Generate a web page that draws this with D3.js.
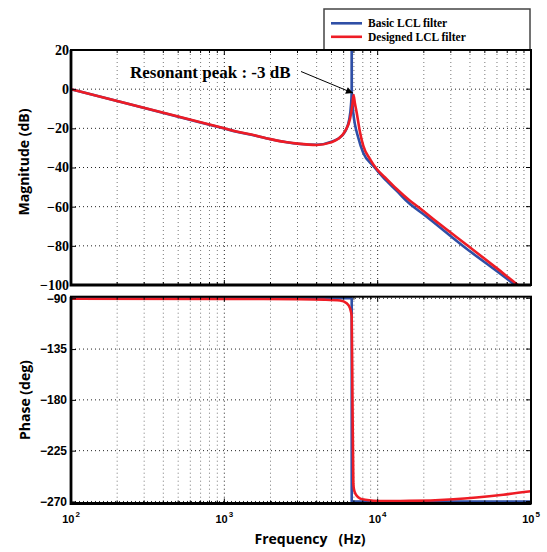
<!DOCTYPE html>
<html>
<head>
<meta charset="utf-8">
<script src="https://cdn.jsdelivr.net/npm/d3@7"></script>
<style>
body { margin: 0; background: #fff; }
</style>
</head>
<body>
<div id="chart-area"></div>
<script>
// values
const seriesNames = ["Basic LCL filter", "Designed LCL filter"];
const seriesColors = ["#2f4fa6", "#ee1c25"];

const magFreqBasic = [100, 200, 500, 1000, 1200, 1500, 2000, 2500, 3000, 4000, 5000, 5970, 6530, 6700, 6765, 6772, 6780, 6850, 6930, 7480, 8060, 9370, 10900, 13310, 15840, 20000, 38000, 60000, 78700, 100000];
const magBasic = [0, -6.1, -14.1, -20.1, -21.7, -23.3, -25.6, -27, -27.9, -28.4, -26.8, -23, -15.3, -8, -2, 40, -2, -8, -12, -24.9, -32.6, -39.2, -45.2, -51.9, -57.9, -64, -81.5, -93, -100, -106];

const magFreqDesigned = [100, 200, 500, 1000, 1200, 1500, 2000, 2500, 3000, 4000, 4900, 5500, 6120, 6610, 6840, 6960, 7100, 7300, 7670, 8060, 8910, 9860, 11460, 13310, 16250, 18300, 25000, 38800, 60000, 82250, 100000];
const magDesigned = [0, -6, -14, -20, -21.6, -23.2, -25.5, -27, -27.8, -28.5, -27.3, -25.5, -21.5, -15, -8, -3, -7, -12, -22, -29, -35.7, -40.8, -45.9, -51, -57, -60, -68.5, -80, -91.5, -100, -105];

const phaseFreqBasic = [100, 6772, 6772, 100000];
const phaseBasic = [-90, -90, -270, -270];

const phaseFreqDesigned = [100, 1000, 3000, 4500, 5680, 6280, 6610, 6770, 6850, 6940, 7000, 7100, 7300, 7700, 8300, 9400, 11500, 16000, 31200, 65900, 100000];
const phaseDesigned = [-90.4, -90.5, -90.8, -91.2, -92, -94.5, -99, -106, -180, -254, -259, -262, -265, -267.5, -268.5, -269.3, -269.6, -269.5, -268, -264, -261];

const magTicks = [20, 0, -20, -40, -60, -80, -100];
const phaseTicks = [-90, -135, -180, -225, -270];
const decadeTicks = [1e2, 1e3, 1e4, 1e5];

const left = 71, right = 531;
const magTop = 50, magBottom = 285;
const phTop = 296.7, phBottom = 503.5;

const svg = d3.select("#chart-area")
    .append("svg")
    .attr("width", 547)
    .attr("height", 552);

const x = d3.scaleLog()
    .domain([1e2, 1e5])
    .range([left, right]);

const yMag = d3.scaleLinear()
    .domain([-100, 20])
    .range([magBottom, magTop]);

const yPh = d3.scaleLinear()
    .domain([-271.8, -88.6])
    .range([phBottom, phTop]);

const allX = x.ticks();

function panel(name, y, top, bottom, yTicks, fontFamily, fontSize, freqs, vals, curves) {
    const g = svg.append("g").attr("class", name);

    g.append("clipPath")
        .attr("id", "clip-" + name)
        .append("rect")
        .attr("x", left)
        .attr("y", top)
        .attr("width", right - left)
        .attr("height", bottom - top);

    // grid
    g.selectAll(".vgrid")
        .data(allX)
        .enter()
        .append("line")
        .attr("x1", d => x(d))
        .attr("x2", d => x(d))
        .attr("y1", top)
        .attr("y2", bottom)
        .attr("stroke", d => decadeTicks.includes(d) ? "#222" : "#777")
        .attr("stroke-width", 1)
        .attr("stroke-dasharray", "1,3");

    g.selectAll(".hgrid")
        .data(yTicks)
        .enter()
        .append("line")
        .attr("x1", left)
        .attr("x2", right)
        .attr("y1", d => y(d))
        .attr("y2", d => y(d))
        .attr("stroke", "#222")
        .attr("stroke-width", 1)
        .attr("stroke-dasharray", "1,3");

    // curves
    const plot = g.append("g").attr("clip-path", `url(#clip-${name})`);
    freqs.forEach((f, i) => {
        const pts = f.map((v, j) => [v, vals[i][j]]);
        const line = d3.line()
            .x(d => x(d[0]))
            .y(d => y(d[1]))
            .curve(curves[i]);
        plot.append("path")
            .datum(pts)
            .attr("d", line)
            .attr("fill", "none")
            .attr("stroke", seriesColors[i])
            .attr("stroke-width", 2.6)
            .attr("stroke-linejoin", "round");
    });

    // ticks on top / bottom
    [top, bottom].forEach((edge, k) => {
        const dir = k === 0 ? 1 : -1;
        g.selectAll(".xt" + k)
            .data(allX)
            .enter()
            .append("line")
            .attr("x1", d => x(d))
            .attr("x2", d => x(d))
            .attr("y1", edge)
            .attr("y2", d => edge + dir * (decadeTicks.includes(d) ? 5 : 3))
            .attr("stroke", "#000")
            .attr("stroke-width", 1);
    });

    // right side ticks
    g.selectAll(".yr")
        .data(yTicks)
        .enter()
        .append("line")
        .attr("x1", right)
        .attr("x2", right - 5)
        .attr("y1", d => y(d))
        .attr("y2", d => y(d))
        .attr("stroke", "#000");

    const yAxis = d3.axisLeft(y)
        .tickValues(yTicks)
        .tickSizeInner(-5)
        .tickSizeOuter(0)
        .tickPadding(name === "mag" ? 2 : 4);

    const ax = g.append("g")
        .attr("transform", `translate(${left}, 0)`)
        .call(yAxis);
    ax.select(".domain").remove();
    ax.selectAll("line").attr("stroke", "#000");
    ax.selectAll("text")
        .attr("font-family", fontFamily)
        .attr("font-weight", "bold")
        .attr("font-size", fontSize)
        .attr("fill", "#000");

    // box
    g.append("rect")
        .attr("x", left)
        .attr("y", top)
        .attr("width", right - left)
        .attr("height", bottom - top)
        .attr("fill", "none")
        .attr("stroke", "#000")
        .attr("stroke-width", 2);
    g.append("path")
        .attr("d", `M${left},${top}V${bottom}H${right}`)
        .attr("fill", "none")
        .attr("stroke", "#000")
        .attr("stroke-width", 2.8);

    return g;
}

panel("mag", yMag, magTop, magBottom, magTicks, "'Liberation Serif', 'Times New Roman', serif", "14px",
    [magFreqBasic, magFreqDesigned], [magBasic, magDesigned],
    [d3.curveMonotoneX, d3.curveMonotoneX]);

panel("ph", yPh, phTop, phBottom, phaseTicks, "'Liberation Sans', Arial, sans-serif", "12px",
    [phaseFreqBasic, phaseFreqDesigned], [phaseBasic, phaseDesigned],
    [d3.curveLinear, d3.curveMonotoneX]);

// decade labels 10^n
const xl = svg.append("g")
    .attr("font-family", "'Liberation Sans', Arial, sans-serif")
    .attr("font-weight", "bold");
decadeTicks.forEach(d => {
    const t = xl.append("text")
        .attr("x", x(d))
        .attr("y", 523)
        .attr("text-anchor", "middle")
        .attr("font-size", "11px");
    t.append("tspan").text("10");
    t.append("tspan")
        .attr("font-size", "8px")
        .attr("dx", 1)
        .attr("dy", -6)
        .text(Math.round(Math.log10(d)));
});

svg.append("text")
    .attr("x", 310)
    .attr("y", 544)
    .attr("text-anchor", "middle")
    .attr("font-family", "'Open Sans', 'Liberation Sans', sans-serif")
    .attr("font-weight", "bold")
    .attr("font-size", "14px")
    .attr("xml:space", "preserve")
    .text("Frequency   (Hz)");

svg.append("text")
    .attr("transform", "translate(29, 162) rotate(-90)")
    .attr("text-anchor", "middle")
    .attr("font-family", "'Open Sans', 'Liberation Sans', sans-serif")
    .attr("font-weight", "bold")
    .attr("font-size", "14px")
    .text("Magnitude (dB)");

svg.append("text")
    .attr("transform", `translate(30, ${(phTop + phBottom) / 2}) rotate(-90)`)
    .attr("text-anchor", "middle")
    .attr("font-family", "'Open Sans', 'Liberation Sans', sans-serif")
    .attr("font-weight", "bold")
    .attr("font-size", "14px")
    .text("Phase (deg)");

// annotation with arrow to the designed peak
svg.append("defs").append("marker")
    .attr("id", "arrow")
    .attr("viewBox", "0 0 10 10")
    .attr("refX", 10)
    .attr("refY", 5)
    .attr("markerWidth", 9)
    .attr("markerHeight", 7)
    .attr("markerUnits", "userSpaceOnUse")
    .attr("orient", "auto")
    .append("path")
    .attr("d", "M0,0L10,5L0,10z")
    .attr("fill", "#000");

svg.append("line")
    .attr("x1", 301)
    .attr("y1", 71.5)
    .attr("x2", x(6900))
    .attr("y2", yMag(-2))
    .attr("stroke", "#000")
    .attr("stroke-width", 1)
    .attr("marker-end", "url(#arrow)");

svg.append("text")
    .attr("x", 130)
    .attr("y", 78)
    .attr("font-family", "'Liberation Serif', 'Times New Roman', serif")
    .attr("font-weight", "bold")
    .attr("font-size", "17px")
    .text("Resonant peak : -3 dB");

// legend
const legend = svg.append("g");
legend.append("rect")
    .attr("x", 324)
    .attr("y", 9)
    .attr("width", 206)
    .attr("height", 41)
    .attr("fill", "#fff")
    .attr("stroke", "#444")
    .attr("stroke-width", 1.5);

seriesNames.forEach((name, i) => {
    const ly = 23.3 + i * 13.5;
    legend.append("line")
        .attr("x1", 331)
        .attr("x2", 362)
        .attr("y1", ly)
        .attr("y2", ly)
        .attr("stroke", seriesColors[i])
        .attr("stroke-width", 2.6);
    legend.append("text")
        .attr("x", 368)
        .attr("y", ly + 4)
        .attr("font-family", "'Liberation Serif', 'Times New Roman', serif")
        .attr("font-weight", "bold")
        .attr("font-size", "11.5px")
        .text(name);
});

// redraw top border of magnitude panel over the legend edge
svg.append("line")
    .attr("x1", left)
    .attr("x2", right)
    .attr("y1", magTop)
    .attr("y2", magTop)
    .attr("stroke", "#000")
    .attr("stroke-width", 2);
</script>
</body>
</html>
